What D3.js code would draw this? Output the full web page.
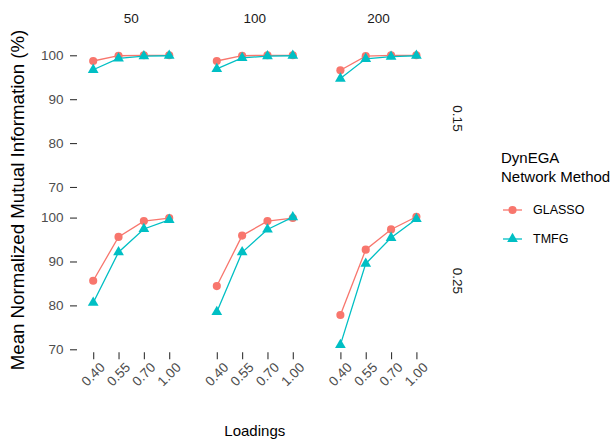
<!DOCTYPE html>
<html>
<head>
<meta charset="utf-8">
<script src="https://cdn.jsdelivr.net/npm/d3@7"></script>
<style>
  html, body { margin: 0; padding: 0; background: #fff; }
  svg { display: block; font-family: "Liberation Sans", Arial, Helvetica, sans-serif; }
</style>
</head>
<body>
<svg id="chart" width="614" height="447"></svg>
<script>
// Facet levels and x categories
const loadings = ["0.40", "0.55", "0.70", "1.00"];
const sampleSizes = ["50", "100", "200"];
const crossLoadings = ["0.15", "0.25"];
const methods = ["GLASSO", "TMFG"];
const yTicks = [70, 80, 90, 100];

// Mean NMI (%) by sample size (rows: 50, 100, 200), one array per method and cross-loading level
const glasso015 = [
  [98.7, 99.9, 100.0, 100.0],
  [98.7, 99.9, 100.0, 100.0],
  [96.6, 99.8, 100.0, 100.0]
];
const tmfg015 = [
  [96.7, 99.3, 99.8, 99.9],
  [96.9, 99.4, 99.8, 99.9],
  [94.7, 99.2, 99.7, 99.9]
];
const glasso025 = [
  [85.6, 95.6, 99.2, 99.9],
  [84.4, 95.9, 99.2, 99.9],
  [77.8, 92.7, 97.3, 100.2]
];
const tmfg025 = [
  [80.6, 92.1, 97.4, 99.5],
  [78.5, 92.1, 97.3, 100.1],
  [71.0, 89.5, 95.4, 99.7]
];

const seriesByRow = [
  { GLASSO: glasso015, TMFG: tmfg015 },
  { GLASSO: glasso025, TMFG: tmfg025 }
];
const colors = { GLASSO: "#F8766D", TMFG: "#00BFC4" };
const shapes = { GLASSO: d3.symbolCircle, TMFG: d3.symbolTriangle };
const shapeSize = { GLASSO: 52, TMFG: 50 };

// Layout
const panelLeft = 78, panelW = 106.4, panelGapX = 17.2;
const panelTop = 48, panelH = 141, panelGapY = 21.3;

const svg = d3.select("#chart");

// Shared y scale with ggplot-style 5% expansion
const allVals = seriesByRow.flatMap(r => methods.flatMap(m => r[m].flat()));
const [ymin, ymax] = d3.extent(allVals);
const pad = (ymax - ymin) * 0.05;
const y = d3.scaleLinear().domain([ymin - pad, ymax + pad]).range([panelH, 0]);

const x = d3.scalePoint().domain(loadings).range([0, panelW]).padding(0.6);

const line = d3.line().x(d => x(d.k)).y(d => y(d.v));

crossLoadings.forEach((cl, ri) => {
  const py = panelTop + ri * (panelH + panelGapY);
  sampleSizes.forEach((n, ci) => {
    const px = panelLeft + ci * (panelW + panelGapX);
    const g = svg.append("g").attr("transform", `translate(${px},${py})`);

    // Column strips along the top row
    if (ri === 0) {
      svg.append("text")
        .attr("x", px + panelW / 2).attr("y", 18)
        .attr("dy", "0.35em")
        .attr("text-anchor", "middle")
        .attr("fill", "#1A1A1A")
        .style("font-size", "13.5px")
        .text(n);
    }

    // Y axis on the first column
    if (ci === 0) {
      const ya = d3.axisLeft(y).tickValues(yTicks).tickSize(7).tickPadding(6.5);
      const ag = g.append("g").attr("transform", "translate(-1,0)").call(ya);
      ag.select(".domain").remove();
      ag.selectAll(".tick line").attr("stroke", "#333333").attr("stroke-width", 1.1);
      ag.selectAll(".tick text").attr("fill", "#4D4D4D").style("font-size", "13.5px")
        .style("font-family", "Liberation Sans, Arial, sans-serif");
    }

    // X axis on the bottom row
    if (ri === crossLoadings.length - 1) {
      const xa = d3.axisBottom(x).tickSize(7).tickPadding(0);
      const ag = g.append("g").attr("transform", `translate(0,${panelH + 1})`).call(xa);
      ag.select(".domain").remove();
      ag.selectAll(".tick line").attr("stroke", "#333333").attr("stroke-width", 1.1);
      ag.selectAll(".tick text")
        .attr("fill", "#4D4D4D")
        .style("font-size", "13.5px")
        .style("font-family", "Liberation Sans, Arial, sans-serif")
        .attr("text-anchor", "end")
        .attr("dy", null)
        .attr("y", null)
        .attr("transform", "translate(12,16) rotate(-45)");
    }

    // Lines then points for each method
    methods.forEach(m => {
      const vals = seriesByRow[ri][m][ci];
      const pts = loadings.map((k, i) => ({ k, v: vals[i] }));
      g.append("path")
        .datum(pts)
        .attr("d", line)
        .attr("fill", "none")
        .attr("stroke", colors[m])
        .attr("stroke-width", 1.3);
      g.selectAll(null)
        .data(pts)
        .enter().append("path")
        .attr("transform", d => `translate(${x(d.k)},${y(d.v)})`)
        .attr("d", d3.symbol().type(shapes[m]).size(shapeSize[m]))
        .attr("fill", colors[m]);
    });
  });

  // Row strips on the right
  svg.append("text")
    .attr("transform", `translate(458,${py + panelH / 2}) rotate(90)`)
    .attr("dy", "0.35em")
    .attr("text-anchor", "middle")
    .attr("fill", "#1A1A1A")
    .style("font-size", "13.5px")
    .text(cl);
});

// Axis titles
const plotMidX = panelLeft + (3 * panelW + 2 * panelGapX) / 2;
svg.append("text")
  .attr("x", plotMidX).attr("y", 436)
  .attr("text-anchor", "middle")
  .attr("fill", "#000")
  .style("font-size", "15px")
  .text("Loadings");
svg.append("text")
  .attr("transform", "translate(24,200) rotate(-90)")
  .attr("text-anchor", "middle")
  .attr("fill", "#000")
  .style("font-size", "18.7px")
  .text("Mean Normalized Mutual Information (%)");

// Legend
const lg = svg.append("g").attr("transform", "translate(501,0)");
lg.append("text").attr("x", 0).attr("y", 163).style("font-size", "15px").attr("fill", "#000").text("DynEGA");
lg.append("text").attr("x", 0).attr("y", 182).style("font-size", "15px").attr("fill", "#000").text("Network Method");
methods.forEach((m, i) => {
  const ky = 210 + i * 29;
  lg.append("line")
    .attr("x1", 2).attr("x2", 21).attr("y1", ky).attr("y2", ky)
    .attr("stroke", colors[m]).attr("stroke-width", 1.3);
  lg.append("path")
    .attr("transform", `translate(11.5,${ky})`)
    .attr("d", d3.symbol().type(shapes[m]).size(shapeSize[m]))
    .attr("fill", colors[m]);
  lg.append("text")
    .attr("x", 32).attr("y", ky).attr("dy", "0.35em")
    .style("font-size", "12.5px").attr("fill", "#000")
    .text(m);
});
</script>
</body>
</html>
